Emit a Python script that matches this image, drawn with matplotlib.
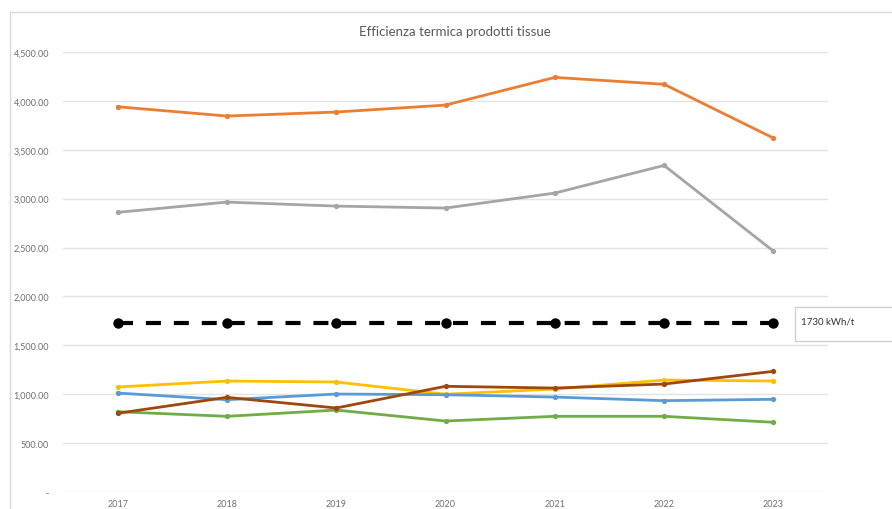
import matplotlib
matplotlib.use("Agg")
import matplotlib.pyplot as plt
from matplotlib.patches import Rectangle
from matplotlib.lines import Line2D

plt.rcParams['font.family'] = ['Lato', 'DejaVu Sans']

years = ["2017", "2018", "2019", "2020", "2021", "2022", "2023"]
orange_vals = [3940, 3845, 3886, 3957, 4240, 4170, 3620]
gray_vals = [2860, 2965, 2924, 2904, 3057, 3340, 2464]
yellow_vals = [1074, 1135, 1125, 1000, 1053, 1145, 1135]
blue_vals = [1012, 944, 1002, 995, 971, 934, 948]
green_vals = [821, 774, 838, 726, 774, 774, 713]
brown_vals = [805, 968, 859, 1081, 1063, 1104, 1234]
benchmark_vals = [1730] * 7
benchmark_label = "1730 kWh/t"
title = "Efficienza termica prodotti tissue"
yticks = [0, 500, 1000, 1500, 2000, 2500, 3000, 3500, 4000, 4500]
ytick_labels = ["-", "500.00", "1,000.00", "1,500.00", "2,000.00", "2,500.00",
                "3,000.00", "3,500.00", "4,000.00", "4,500.00"]

W, H = 892, 510
fig = plt.figure(figsize=(W / 100, H / 100), dpi=100)
fig.patch.set_facecolor("white")

# outer chart frame (top and left edges visible)
fig.add_artist(Line2D([10 / W, 10 / W], [0, 1 - 13 / H], transform=fig.transFigure,
                      color="#d9d9d9", lw=1.0))
fig.add_artist(Line2D([10 / W, 1], [1 - 13 / H, 1 - 13 / H], transform=fig.transFigure,
                      color="#d9d9d9", lw=1.0))

x0, x1 = 63, 828
ytop, ybot = 53, 493
ax = fig.add_axes([x0 / W, 1 - ybot / H, (x1 - x0) / W, (ybot - ytop) / H])
ax.set_xlim(-0.5, 6.5)
ax.set_ylim(0, 4500)
for s in ax.spines.values():
    s.set_visible(False)
ax.set_yticks(yticks)
ax.set_yticklabels(ytick_labels)
ax.yaxis.grid(True, color="#e3e3e3", lw=1.0)
ax.set_axisbelow(True)
x = list(range(len(years)))
ax.set_xticks(x)
ax.set_xticklabels(years)
ax.tick_params(axis="both", length=0, labelsize=6.5, labelcolor="#707070")
ax.tick_params(axis="y", pad=10)
ax.tick_params(axis="x", pad=5)

series = [
    (orange_vals, "#ED7D31"),
    (gray_vals, "#A5A5A5"),
    (yellow_vals, "#FFC000"),
    (blue_vals, "#5B9BD5"),
    (green_vals, "#70AD47"),
    (brown_vals, "#9E480E"),
]
for vals, col in series:
    ax.plot(x, vals, color=col, lw=2.0, marker="o", markersize=3.8,
            markeredgewidth=0, zorder=3)

ax.plot(x, benchmark_vals, color="black", lw=3.0, marker="o", markersize=7.5,
        markeredgewidth=0, dashes=(3.6, 3.1), dash_capstyle="butt", zorder=4)

fig.text(455 / W, 1 - 32 / H, title, ha="center", va="center", fontsize=9.5,
         color="#595959")

# label box
fig.add_artist(Rectangle((795 / W, 1 - 342 / H), (W - 795 + 5) / W, 34 / H,
                         transform=fig.transFigure, facecolor="white",
                         edgecolor="#d0d0d0", lw=1.0))
fig.text(801 / W, 1 - 322 / H, benchmark_label, ha="left", va="center",
         fontsize=7, color="#333333")

fig.savefig("out.png", dpi=100, facecolor="white")
